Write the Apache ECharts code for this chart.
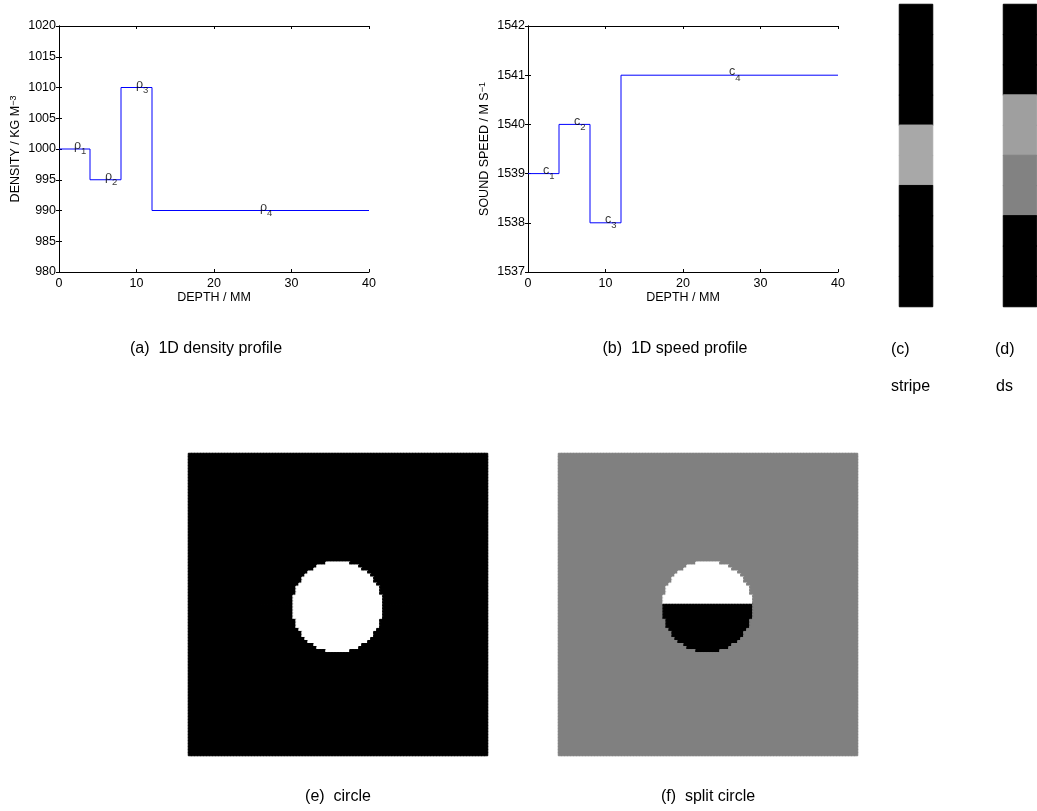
<!DOCTYPE html>
<html><head><meta charset="utf-8">
<script src="https://cdn.jsdelivr.net/npm/echarts@6/dist/echarts.min.js"></script>
<style>html,body{margin:0;padding:0;background:#fff}#c{width:1037px;height:811px}</style>
</head><body><div id="c"></div>
<script>
// ---- data ----
const depthEdges = [0, 4, 8, 12, 40];
const densityValues = [1000, 995, 1010, 990];
const speedValues = [1539, 1540, 1538, 1541];
const layerLabelDepth = [2, 6, 10, 26];
const densitySymbol = 'ρ';
const speedSymbol = 'c';
const layerSubscripts = ['1', '2', '3', '4'];
const depthRange = [0, 40, 10];
const densityRange = [980, 1020, 5];
const speedRange = [1537, 1542, 1];
const captions = ['(a)  1D density profile', '(b)  1D speed profile', '(c)', 'stripe', '(d)', 'ds', '(e)  circle', '(f)  split circle'];
// stripe phantoms: 10 rows, top to bottom, grey level 0 (black) .. 1 (white)
const stripeValues = [0, 0, 0, 0, 0.66, 0.66, 0, 0, 0, 0];
const dsValues = [0, 0, 0, 0.625, 0.625, 0.51, 0.51, 0, 0, 0];
// disc phantoms on a 100x100 grid
const imageSize = 100;
const discCenterCol = 50, discCenterRow = 51, discRadius = 15;
const circleInside = 1, circleOutside = 0;
const splitBackground = 0.5, splitTop = 1, splitBottom = 0, splitRow = 50;

// ---- build ----
const FONT = 'Liberation Sans, Arial, sans-serif';
function grey(v) { const g = Math.round(v * 255); return 'rgb(' + g + ',' + g + ',' + g + ')'; }
function cell(c, r, v) { return {value: [c, r, v], itemStyle: {borderColor: grey(v)}}; }
function stepData(vals) {
  const d = vals.map((v, i) => [depthEdges[i], v]);
  d.push([depthEdges[depthEdges.length - 1], vals[vals.length - 1]]);
  return d;
}
function labelData(vals) { return layerLabelDepth.map((x, i) => [x, vals[i]]); }
function inDisc(c, r) {
  const dx = c + 0.5 - discCenterCol, dy = r + 0.5 - discCenterRow;
  return dx * dx + dy * dy <= discRadius * discRadius;
}
const circleData = [], splitData = [];
for (let r = 0; r < imageSize; r++) {
  for (let c = 0; c < imageSize; c++) {
    const inside = inDisc(c, r);
    circleData.push(cell(c, r, inside ? circleInside : circleOutside));
    splitData.push(cell(c, r, inside ? (r < splitRow ? splitTop : splitBottom) : splitBackground));
  }
}
const stripeData = stripeValues.map((v, i) => cell(0, i, v));
const dsData = dsValues.map((v, i) => cell(0, i, v));
const idx = n => Array.from({length: n}, (_, i) => String(i));

const tickLabel = {color: '#000', fontSize: 12.5, fontFamily: FONT, formatter: v => String(v)};
const axisLine = {show: true, lineStyle: {color: '#000', width: 1}};
const tick = {show: true, inside: true, length: 3, lineStyle: {color: '#000'}};
const supRich = {sup: {fontSize: 9, fontFamily: FONT, color: '#000', verticalAlign: 'top', lineHeight: 9, padding: [0, 0, 6, 0]}};

function valX(grid, pos, showLabels, name) {
  return {
    type: 'value', gridIndex: grid, position: pos, min: depthRange[0], max: depthRange[1], interval: depthRange[2],
    axisLine, axisTick: tick, splitLine: {show: false},
    axisLabel: {show: showLabels, margin: 5, ...tickLabel},
    name: name || '', nameLocation: 'middle', nameGap: 18,
    nameTextStyle: {color: '#000', fontSize: 12.5, fontFamily: FONT}
  };
}
function valY(grid, pos, range, showLabels, name) {
  return {
    type: 'value', gridIndex: grid, position: pos, min: range[0], max: range[1], interval: range[2],
    axisLine, axisTick: tick, splitLine: {show: false},
    axisLabel: {show: showLabels, margin: 3, ...tickLabel},
    name: name || '', nameLocation: 'middle', nameRotate: 90, nameGap: 29,
    nameTextStyle: {color: '#000', fontSize: 12.5, fontFamily: FONT, rich: supRich}
  };
}
function catAxis(grid, n) {
  return {type: 'category', gridIndex: grid, data: idx(n), show: false};
}
function catY(grid, n) {
  return {type: 'category', gridIndex: grid, data: idx(n), show: false, inverse: true};
}
function labelSeries(xi, yi, vals, sym) {
  return {
    type: 'scatter', xAxisIndex: xi, yAxisIndex: yi, data: labelData(vals), symbolSize: 1,
    itemStyle: {color: 'rgba(0,0,0,0)'}, silent: true, z: 5,
    label: {
      show: true, position: [0, 0], align: 'left', verticalAlign: 'middle', offset: [0, -0.5],
      formatter: p => '{g|' + sym + '}{s|' + layerSubscripts[p.dataIndex] + '}',
      rich: {
        g: {fontSize: 12.5, fontFamily: FONT, color: '#000', verticalAlign: 'top', lineHeight: 17.5},
        s: {fontSize: 9.5, fontFamily: FONT, color: '#000', verticalAlign: 'bottom', lineHeight: 10}
      }
    }
  };
}
function heat(i, data) {
  return {type: 'heatmap', xAxisIndex: i, yAxisIndex: i, data, progressive: 0, silent: true,
    emphasis: {disabled: true}, itemStyle: {borderWidth: 1}};
}

const option = {
  animation: false,
  backgroundColor: '#fff',
  grid: [
    {left: 59, top: 26, width: 310, height: 246},
    {left: 528, top: 26, width: 310, height: 246},
    {left: 899.5, top: 4.5, width: 33, height: 302},
    {left: 1003.5, top: 4.5, width: 33, height: 302},
    {left: 188.5, top: 453.5, width: 299, height: 302},
    {left: 558.5, top: 453.5, width: 299, height: 302}
  ],
  xAxis: [
    valX(0, 'bottom', true, 'DEPTH / MM'), valX(0, 'top', false),
    valX(1, 'bottom', true, 'DEPTH / MM'), valX(1, 'top', false),
    catAxis(2, 1), catAxis(3, 1), catAxis(4, imageSize), catAxis(5, imageSize)
  ],
  yAxis: [
    valY(0, 'left', densityRange, true, 'DENSITY / KG M{sup|−3}'), valY(0, 'right', densityRange, false),
    valY(1, 'left', speedRange, true, 'SOUND SPEED / M S{sup|−1}'), valY(1, 'right', speedRange, false),
    catY(2, stripeValues.length), catY(3, dsValues.length), catY(4, imageSize), catY(5, imageSize)
  ],
  visualMap: [{type: 'continuous', show: false, min: 0, max: 1, seriesIndex: [4, 5, 6, 7],
    inRange: {color: ['#000000', '#ffffff']}}],
  series: [
    {type: 'line', xAxisIndex: 0, yAxisIndex: 0, data: stepData(densityValues), step: 'end', symbol: 'none',
      lineStyle: {color: '#0000ff', width: 1}, silent: true},
    labelSeries(0, 0, densityValues, densitySymbol),
    {type: 'line', xAxisIndex: 2, yAxisIndex: 2, data: stepData(speedValues), step: 'end', symbol: 'none',
      lineStyle: {color: '#0000ff', width: 1}, silent: true},
    labelSeries(2, 2, speedValues, speedSymbol),
    heat(4, stripeData), heat(5, dsData), heat(6, circleData), heat(7, splitData)
  ],
  graphic: [
    {type: 'text', x: 206, y: 349, style: {text: captions[0], align: 'center', verticalAlign: 'middle', font: '16px ' + FONT, fill: '#000'}},
    {type: 'text', x: 675, y: 349, style: {text: captions[1], align: 'center', verticalAlign: 'middle', font: '16px ' + FONT, fill: '#000'}},
    {type: 'text', x: 891, y: 350, style: {text: captions[2], align: 'left', verticalAlign: 'middle', font: '16px ' + FONT, fill: '#000'}},
    {type: 'text', x: 891, y: 387, style: {text: captions[3], align: 'left', verticalAlign: 'middle', font: '16px ' + FONT, fill: '#000'}},
    {type: 'text', x: 995, y: 350, style: {text: captions[4], align: 'left', verticalAlign: 'middle', font: '16px ' + FONT, fill: '#000'}},
    {type: 'text', x: 996, y: 387, style: {text: captions[5], align: 'left', verticalAlign: 'middle', font: '16px ' + FONT, fill: '#000'}},
    {type: 'text', x: 338, y: 797, style: {text: captions[6], align: 'center', verticalAlign: 'middle', font: '16px ' + FONT, fill: '#000'}},
    {type: 'text', x: 708, y: 797, style: {text: captions[7], align: 'center', verticalAlign: 'middle', font: '16px ' + FONT, fill: '#000'}}
  ]
};
const chart = echarts.init(document.getElementById('c'), null, {renderer: 'canvas'});
chart.setOption(option);
</script>
</body></html>
